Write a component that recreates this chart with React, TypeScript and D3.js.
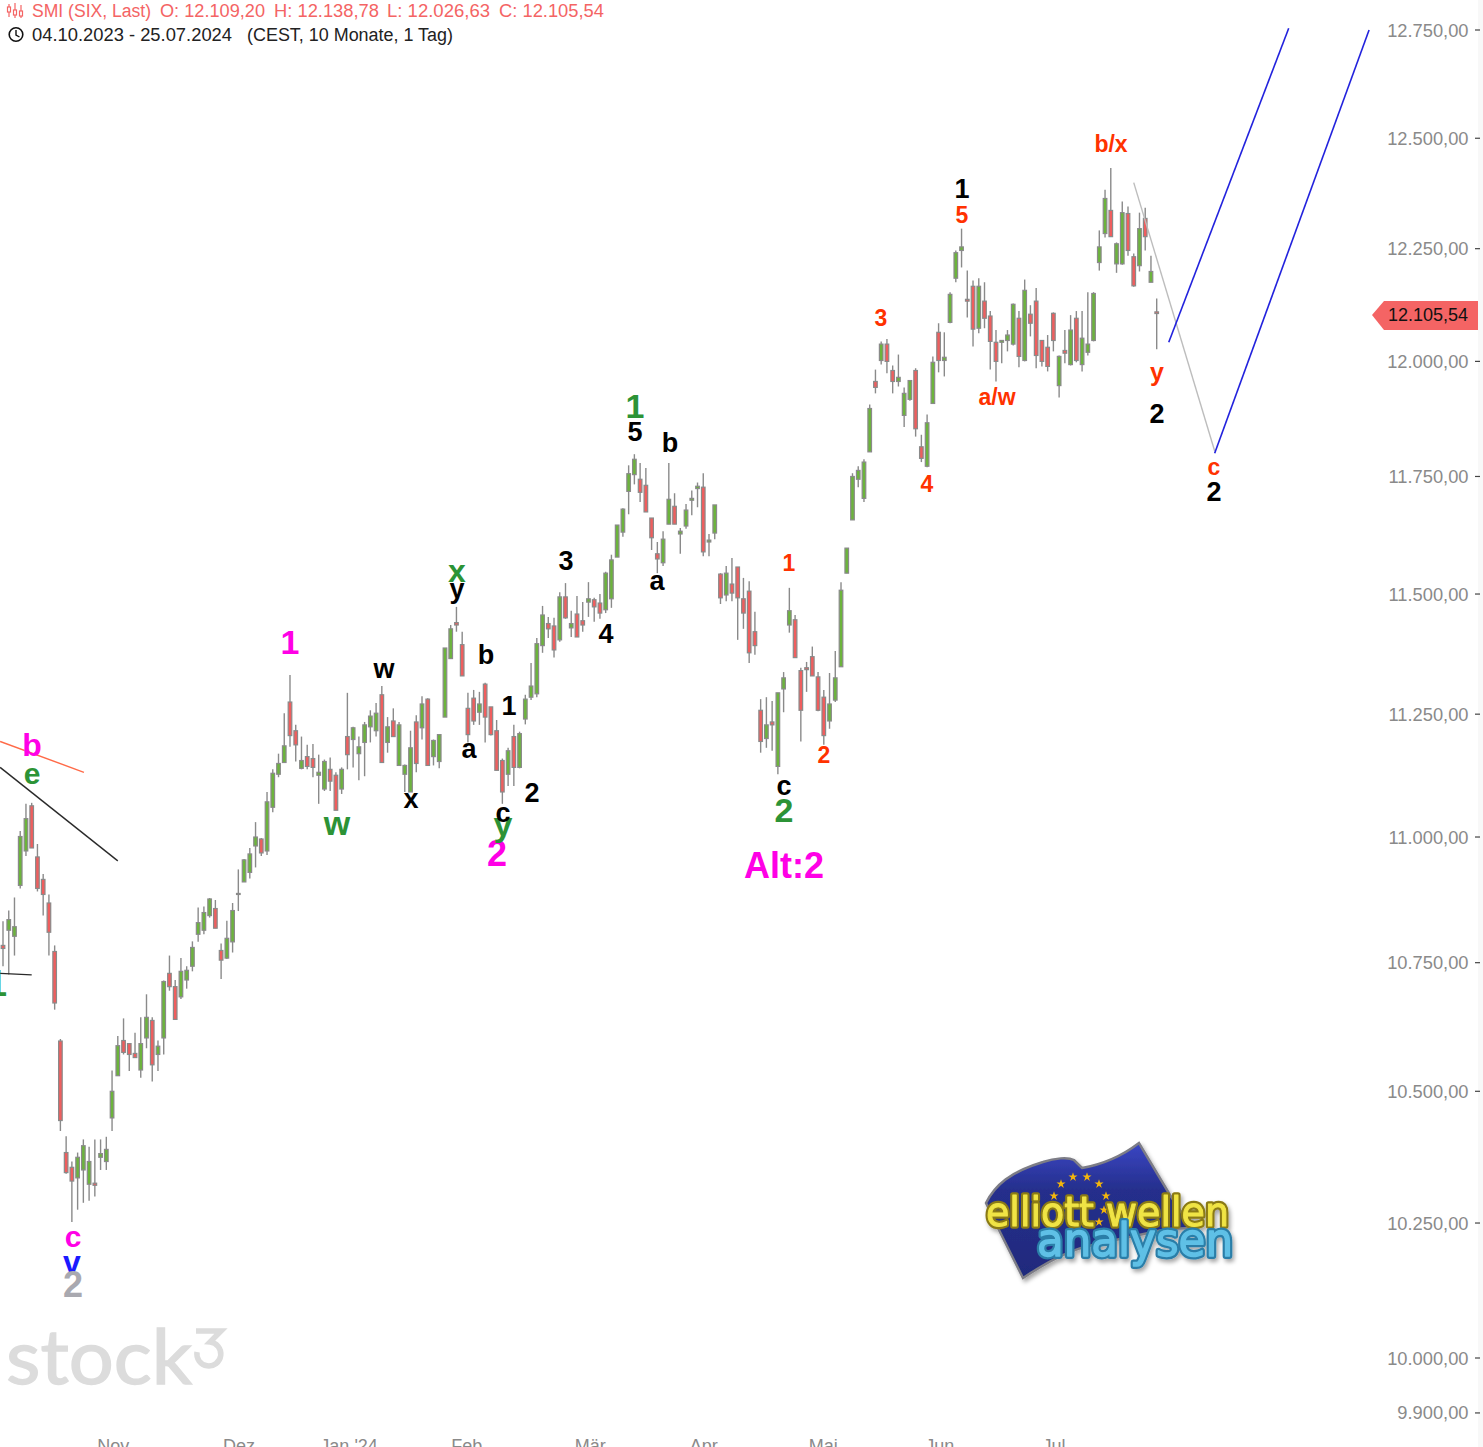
import React from "react";
import * as d3 from "d3";

type C = [number, number, number, number];
// [open, high, low, close]
const autumnCandles: C[] = [
[10784,10832,10743,10778],[10814,10853,10727,10835],[10802,10879,10764,10821],[10903,11012,10897,11001],[10972,11067,10962,11037],[11063,11069,10978,10978],[10960,10986,10891,10897],[10915,10926,10843,10885],[10868,10885,10764,10810],[10772,10784,10658,10671],
[10597,10601,10424,10444],[10383,10414,10343,10345],[10355,10366,10252,10329],[10335,10383,10275,10374],[10350,10408,10288,10396],[10323,10394,10292,10366],[10325,10408,10300,10321],[10374,10408,10350,10381],[10366,10413,10350,10389],[10449,10540,10424,10500],
[10530,10607,10530,10588],[10598,10641,10571,10575],[10592,10592,10539,10571],[10573,10613,10565,10565],[10541,10643,10526,10592],[10603,10688,10583,10643],[10637,10643,10519,10551],[10571,10598,10539,10587],[10603,10715,10571,10713],[10729,10764,10695,10703],
[10703,10716,10639,10639],[10683,10759,10679,10733],[10716,10743,10699,10735],[10743,10792,10733,10780],[10806,10859,10791,10829],[10814,10861,10806,10849],[10843,10878,10839,10876],[10857,10874,10818,10818],[10774,10788,10718,10755],[10759,10833,10757,10798],
[10791,10868,10770,10853],[10885,10935,10852,10887],[10910,10956,10910,10954],[10929,10978,10917,10966],[10982,11030,10939,11000],[10996,10998,10962,10968],[10972,11091,10964,11071],[11060,11137,11050,11129],[11127,11169,11121,11149],[11151,11252,11151,11185],
];
const winterCandles: C[] = [
[11275,11331,11183,11206],[11216,11228,11153,11187],[11139,11204,11137,11155],[11163,11187,11137,11143],[11159,11189,11121,11141],[11125,11167,11067,11131],[11097,11157,11093,11153],[11137,11161,11093,11113],[11125,11131,11054,11054],[11097,11141,11087,11137],
[11204,11294,11137,11167],[11198,11224,11141,11222],[11169,11204,11115,11183],[11192,11234,11123,11228],[11224,11258,11192,11246],[11216,11273,11204,11252],[11290,11308,11151,11151],[11192,11244,11171,11224],[11236,11262,11204,11204],[11145,11234,11145,11228],
[11127,11147,11091,11145],[11091,11216,11091,11181],[11234,11248,11131,11149],[11222,11287,11198,11271],[11281,11283,11145,11145],[11163,11198,11145,11196],[11153,11208,11139,11208],[11244,11387,11244,11387],[11365,11435,11365,11427],[11440,11473,11421,11435],
[11394,11421,11329,11329],[11262,11294,11192,11208],[11283,11300,11228,11236],[11254,11296,11228,11271],[11312,11315,11192,11244],[11265,11265,11206,11208],[11216,11238,11135,11135],[11155,11159,11067,11091],[11127,11181,11103,11175],[11204,11228,11103,11141],
[11141,11214,11139,11210],[11240,11290,11229,11281],[11285,11356,11279,11308],[11292,11408,11285,11396],[11392,11475,11377,11456],[11438,11452,11408,11427],[11433,11450,11367,11383],[11404,11504,11400,11494],[11494,11523,11448,11450],[11429,11465,11410,11438],
];
const springCandles: C[] = [
[11458,11496,11410,11410],[11444,11483,11421,11435],[11483,11525,11452,11490],[11488,11492,11442,11473],[11481,11500,11448,11460],[11467,11547,11460,11544],[11490,11583,11471,11572],[11578,11646,11578,11646],[11631,11682,11621,11680],[11718,11774,11669,11756],
[11754,11798,11733,11787],[11744,11779,11695,11716],[11731,11768,11674,11674],[11661,11661,11593,11619],[11585,11610,11544,11574],[11566,11633,11559,11616],[11648,11779,11648,11701],[11686,11714,11648,11648],[11627,11640,11585,11633],[11644,11691,11638,11678],
[11699,11720,11667,11703],[11724,11737,11684,11729],[11727,11757,11580,11589],[11610,11627,11580,11614],[11629,11689,11616,11689],[11542,11544,11479,11492],[11498,11559,11485,11544],[11521,11576,11485,11502],[11557,11557,11404,11492],[11490,11534,11427,11460],
[11506,11527,11356,11377],[11421,11463,11373,11392],[11258,11281,11171,11194],[11200,11285,11181,11228],[11234,11277,11175,11228],[11143,11294,11127,11294],[11302,11337,11254,11325],[11435,11513,11419,11465],[11446,11456,11367,11367],[11340,11346,11194,11258],
[11346,11358,11296,11342],[11369,11390,11329,11329],[11327,11337,11256,11258],[11285,11300,11187,11206],[11236,11335,11220,11271],[11279,11381,11275,11325],[11348,11525,11348,11508],[11544,11597,11544,11597],[11657,11757,11657,11750],[11744,11772,11727,11763],
];
const summerCandles: C[] = [
[11703,11787,11695,11781],[11803,11906,11803,11897],[11956,11982,11930,11943],[12002,12044,11993,12038],[12038,12049,11974,12000],[11980,11991,11930,11956],[11956,12015,11945,11965],[11882,11943,11857,11930],[11917,11958,11914,11958],[11980,11985,11836,11853],
[11814,11840,11781,11789],[11772,11884,11770,11866],[11908,12011,11908,11998],[12064,12084,11976,12002],[12002,12064,11967,12009],[12086,12153,12084,12148],[12184,12246,12175,12241],[12246,12295,12208,12254],[12137,12201,12097,12133],[12166,12179,12033,12071],
[12073,12184,12062,12166],[12133,12175,12073,12095],[12100,12111,11982,12044],[12042,12069,11956,12000],[12042,12046,11996,12046],[12046,12069,12022,12058],[12038,12128,12035,12126],[12095,12111,11987,12011],[12002,12181,12000,12157],[12104,12124,12055,12084],
[12133,12162,11985,12013],[12046,12046,11989,12000],[12031,12058,11978,11989],[12106,12108,12022,12046],[11947,12013,11921,12011],[12024,12069,11996,12018],[11993,12102,11991,12069],[12095,12111,11998,12002],[11993,12111,11978,12051],[12020,12153,12013,12038],
[12046,12153,12044,12150],[12219,12291,12201,12254],[12284,12383,12275,12363],[12336,12432,12277,12277],[12216,12264,12196,12261],[12216,12356,12214,12331],[12329,12345,12234,12246],[12232,12239,12165,12167],[12212,12331,12199,12295],[12318,12342,12246,12277],
[12175,12234,12175,12199],[12109.2,12138.78,12026.63,12105.54],
];
const candles = [...autumnCandles, ...winterCandles, ...springCandles, ...summerCandles];

const priceTicks = [12750, 12500, 12250, 12000, 11750, 11500, 11250, 11000, 10750, 10500, 10250, 10000, 9900];
const monthNames = ["Nov", "Dez", "Jan '24", "Feb", "Mär", "Apr", "Mai", "Jun", "Jul"];
const monthIndex = [19.2, 41.1, 60.3, 80.8, 102.3, 122.1, 142.9, 163.2, 183.1];
const lastPrice = 12105.54;

// trend lines: [index, price, index, price]
const blueLines = [[203.1, 12042, 224, 12754], [211.1, 11800, 238, 12750]];
const grayLines = [[197, 12399, 211.1, 11805]];
const orangeLines = [[-0.5, 11194, 14.1, 11131]];
const blackLines = [[-0.5, 11141, 20, 10952], [-0.5, 10729, 5, 10726]];

const MAG = "#ff00e6", GRN = "#2c9336", BLK = "#000", RED = "#ff3200", BLU = "#1a1aff", GRY = "#a9a9b0";
const waveLabels: [string, number, number, number, string][] = [
  ["b", 32, 756, 32, MAG], ["e", 32, 784, 30, GRN], ["c", 73, 1247, 30, MAG], ["v", 72, 1273, 32, BLU], ["2", 73, 1297, 36, GRY], ["1", -3, 996, 36, GRN],
  ["1", 290, 654, 34, MAG], ["2", 497, 866, 36, MAG], ["Alt:2", 784, 878, 36, MAG],
  ["w", 337, 835, 34, GRN], ["y", 503, 836, 34, GRN], ["x", 457, 582, 32, GRN], ["1", 635, 418, 34, GRN], ["2", 784, 822, 34, GRN],
  ["w", 384, 678, 27, BLK], ["x", 411, 808, 27, BLK], ["y", 457, 598, 27, BLK], ["a", 469, 758, 27, BLK], ["b", 486, 664, 27, BLK], ["c", 503, 822, 27, BLK],
  ["1", 509, 715, 27, BLK], ["2", 532, 802, 27, BLK], ["3", 566, 570, 27, BLK], ["4", 606, 643, 27, BLK], ["5", 635, 441, 27, BLK],
  ["a", 657, 590, 27, BLK], ["b", 670, 452, 27, BLK], ["c", 784, 795, 27, BLK], ["1", 962, 198, 27, BLK], ["2", 1157, 423, 27, BLK], ["2", 1214, 501, 27, BLK],
  ["1", 789, 571, 23, RED], ["2", 824, 763, 23, RED], ["3", 881, 326, 23, RED], ["4", 927, 492, 23, RED], ["5", 962, 223, 23, RED],
  ["a/w", 997, 405, 23, RED], ["b/x", 1111, 152, 23, RED], ["y", 1157, 381, 25, RED], ["c", 1214, 475, 23, RED],
];
const stars = [[1061,1184],[1073,1177],[1087,1177],[1099,1184],[1106,1196],[1104,1210],[1099,1222],[1054,1196],[1060,1220]];

const F = "'Liberation Sans', Arial, sans-serif";
const fmt = (p: number) => d3.format(",.2f")(p).replace(/,/g, "#").replace(".", ",").replace(/#/g, ".");

export default function App() {
  const y = d3.scaleLog().domain([10000, 12750]).range([1358, 30]);
  const x = d3.scaleLinear().domain([0, candles.length - 1]).range([3, 1156.7]);
  const starPath = d3.symbol().type(d3.symbolStar).size(26)() as string;
  const seg = (l: number[], stroke: string, w: number, k: string) => (
    <line key={k} x1={x(l[0])} y1={y(l[1])} x2={x(l[2])} y2={y(l[3])} stroke={stroke} strokeWidth={w} />
  );
  return (
    <svg width={1483} height={1447} style={{ position: "absolute", left: 0, top: 0, background: "#fff", fontFamily: F }}>
      <defs>
        <linearGradient id="flag" x1="0" y1="0" x2="0" y2="1">
          <stop offset="0" stopColor="#3a46c4" />
          <stop offset="0.35" stopColor="#252f8c" />
          <stop offset="1" stopColor="#1f2a7c" />
        </linearGradient>
        <filter id="sh" x="-10%" y="-10%" width="120%" height="130%">
          <feDropShadow dx="2" dy="3" stdDeviation="2" floodColor="#000" floodOpacity="0.35" />
        </filter>
      </defs>
      <rect x={1478} y={0} width={5} height={1447} fill="#f8f8f8" />

      {/* watermark */}
      <text x={6} y={1384} fontFamily="Lato" fontSize={76} fill="#dcdcdc" textLength={186} lengthAdjust="spacingAndGlyphs" stroke="#dcdcdc" strokeWidth={1.4}>stock</text>
      <path d="M196 1331H221L210 1342A12 12 0 1 1 197 1352" fill="none" stroke="#dcdcdc" strokeWidth={5.5} />

      {/* logo */}
      <g filter="url(#sh)">
        <path d="M986 1203C995 1185 1010 1172 1043 1162C1055 1158 1068 1157 1074 1160L1082 1168C1105 1164 1122 1156 1139 1143L1170 1195L1192 1228L1167 1229C1140 1235 1122 1238 1103 1243C1085 1246 1065 1250 1023 1278L1000 1232Z" fill="url(#flag)" stroke="#7d7d86" strokeWidth={2.5} />
        {stars.map((s, i) => <path key={i} d={starPath} transform={`translate(${s[0]},${s[1]})`} fill="#f3b60c" />)}
        <text x={986} y={1226} fontFamily="DejaVu Sans" fontSize={40} textLength={243} lengthAdjust="spacingAndGlyphs" fill="none" stroke="#8a7a14" strokeWidth={5.5} strokeLinejoin="round">elliott wellen</text>
        <text x={986} y={1226} fontFamily="DejaVu Sans" fontSize={40} textLength={243} lengthAdjust="spacingAndGlyphs" fill="#f0e445" stroke="#f0e445" strokeWidth={1} strokeLinejoin="round">elliott wellen</text>
        <text x={1037} y={1256} fontFamily="DejaVu Sans" fontSize={46} textLength={196} lengthAdjust="spacingAndGlyphs" fill="none" stroke="#2b7ea8" strokeWidth={6} strokeLinejoin="round">analysen</text>
        <text x={1037} y={1256} fontFamily="DejaVu Sans" fontSize={46} textLength={196} lengthAdjust="spacingAndGlyphs" fill="#5fc0e6" stroke="#5fc0e6" strokeWidth={1.4} strokeLinejoin="round">analysen</text>
      </g>

      {/* candles */}
      {candles.map((c, i) => {
        const [o, h, l, cl] = c;
        const up = cl >= o;
        const t = y(Math.max(o, cl)), b = y(Math.min(o, cl));
        return (
          <g key={i}>
            <line x1={x(i)} x2={x(i)} y1={y(h)} y2={y(l)} stroke="#8a8a8a" strokeWidth={1.4} />
            <rect x={x(i) - 1.8} y={t} width={3.6} height={Math.max(b - t, 1)} fill={up ? "#6cb43c" : "#ef5e5e"} stroke="#8a8a8a" strokeWidth={1.2} />
          </g>
        );
      })}

      {/* trend lines */}
      {orangeLines.map((l, i) => seg(l, "#ff6a48", 1.4, "o" + i))}
      {blackLines.map((l, i) => seg(l, "#2a2a2a", 1.4, "k" + i))}
      {grayLines.map((l, i) => seg(l, "#bdbdbd", 1.4, "g" + i))}
      {blueLines.map((l, i) => seg(l, "#2222dd", 1.6, "b" + i))}

      {/* wave labels */}
      {waveLabels.map((w, i) => (
        <text key={i} x={w[1]} y={w[2]} fontSize={w[3]} fill={w[4]} fontWeight={700} textAnchor="middle">{w[0]}</text>
      ))}

      {/* price axis */}
      {priceTicks.map((p) => (
        <g key={p}>
          <line x1={1475} x2={1480} y1={y(p)} y2={y(p)} stroke="#444" strokeWidth={1.2} />
          <text x={1468.5} y={y(p) + 6.5} fontSize={18.3} fill="#8a8a8a" textAnchor="end">{fmt(p)}</text>
        </g>
      ))}
      <path d={`M1372 ${y(lastPrice) + 1.5}L1384 301H1478V330H1384Z`} fill="#f46464" />
      <text x={1468} y={321} fontSize={18} fill="#111" textAnchor="end">{fmt(lastPrice)}</text>

      {/* month axis */}
      {monthNames.map((m, i) => (
        <text key={m} x={x(monthIndex[i])} y={1452} fontSize={18} fill="#8a8a8a" textAnchor="middle">{m}</text>
      ))}

      {/* header */}
      <g stroke="#f46464" strokeWidth={1.2} fill="none">
        <path d="M9 4V17M15 3V18M21 5V18" />
        <rect x={7.5} y={7} width={3} height={5} fill="#fff" />
        <rect x={13.5} y={10} width={3} height={5} fill="#fff" />
        <rect x={19.5} y={11} width={3} height={5} fill="#fff" />
      </g>
      <g fontSize={18} fill="#f46464">
        <text x={32} y={17} textLength={119} lengthAdjust="spacingAndGlyphs">SMI (SIX, Last)</text>
        <text x={160} y={17} textLength={105} lengthAdjust="spacingAndGlyphs">O: 12.109,20</text>
        <text x={274} y={17} textLength={105} lengthAdjust="spacingAndGlyphs">H: 12.138,78</text>
        <text x={387} y={17} textLength={103} lengthAdjust="spacingAndGlyphs">L: 12.026,63</text>
        <text x={499} y={17} textLength={105} lengthAdjust="spacingAndGlyphs">C: 12.105,54</text>
      </g>
      <circle cx={16} cy={34.5} r={6.8} fill="none" stroke="#111" strokeWidth={1.6} />
      <path d="M16 30V35L19.5 37" fill="none" stroke="#111" strokeWidth={1.4} />
      <g fontSize={18} fill="#222">
        <text x={32} y={41} textLength={200} lengthAdjust="spacingAndGlyphs">04.10.2023 - 25.07.2024</text>
        <text x={247} y={41} textLength={206} lengthAdjust="spacingAndGlyphs">(CEST, 10 Monate, 1 Tag)</text>
      </g>
    </svg>
  );
}
